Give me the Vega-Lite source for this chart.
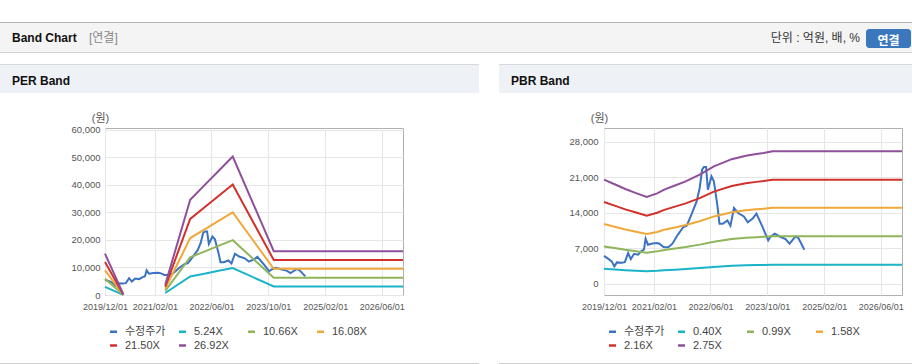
{
  "$schema": "https://vega.github.io/schema/vega-lite/v6.json",
  "background": "white",
  "padding": {"left": 0, "top": 22, "right": 0, "bottom": 0},
  "config": {
    "view": {"stroke": null},
    "title": {"anchor": "start", "frame": "group", "offset": 0, "baseline": "alphabetic", "font": "Liberation Sans, Noto Sans CJK KR", "fontSize": 12, "fontWeight": "bold", "color": "#111"}
  },
  "datasets": {
    "price": [
      {"date": "2019-12-01", "v": 5550, "series": "수정주가"},
      {"date": "2020-01-10", "v": 4900, "series": "수정주가"},
      {"date": "2020-02-05", "v": 4460, "series": "수정주가"},
      {"date": "2020-02-28", "v": 3450, "series": "수정주가"},
      {"date": "2020-03-20", "v": 4260, "series": "수정주가"},
      {"date": "2020-05-01", "v": 4200, "series": "수정주가"},
      {"date": "2020-05-28", "v": 4300, "series": "수정주가"},
      {"date": "2020-06-25", "v": 6100, "series": "수정주가"},
      {"date": "2020-07-18", "v": 4900, "series": "수정주가"},
      {"date": "2020-08-15", "v": 5950, "series": "수정주가"},
      {"date": "2020-09-18", "v": 5780, "series": "수정주가"},
      {"date": "2020-10-15", "v": 6430, "series": "수정주가"},
      {"date": "2020-11-08", "v": 6800, "series": "수정주가"},
      {"date": "2020-11-22", "v": 8950, "series": "수정주가"},
      {"date": "2020-12-12", "v": 7750, "series": "수정주가"},
      {"date": "2021-01-20", "v": 8000, "series": "수정주가"},
      {"date": "2021-03-01", "v": 8080, "series": "수정주가"},
      {"date": "2021-03-20", "v": 7950, "series": "수정주가"},
      {"date": "2021-04-25", "v": 7300, "series": "수정주가"},
      {"date": "2021-06-05", "v": 7230, "series": "수정주가"},
      {"date": "2021-07-10", "v": 7950, "series": "수정주가"},
      {"date": "2021-08-25", "v": 9700, "series": "수정주가"},
      {"date": "2021-10-12", "v": 11240, "series": "수정주가"},
      {"date": "2021-11-10", "v": 11500, "series": "수정주가"},
      {"date": "2021-12-20", "v": 13670, "series": "수정주가"},
      {"date": "2022-02-03", "v": 16290, "series": "수정주가"},
      {"date": "2022-03-01", "v": 18930, "series": "수정주가"},
      {"date": "2022-03-22", "v": 22540, "series": "수정주가"},
      {"date": "2022-04-06", "v": 23070, "series": "수정주가"},
      {"date": "2022-04-25", "v": 23070, "series": "수정주가"},
      {"date": "2022-05-10", "v": 18600, "series": "수정주가"},
      {"date": "2022-06-10", "v": 21220, "series": "수정주가"},
      {"date": "2022-07-01", "v": 20230, "series": "수정주가"},
      {"date": "2022-08-01", "v": 15300, "series": "수정주가"},
      {"date": "2022-08-18", "v": 11890, "series": "수정주가"},
      {"date": "2022-09-15", "v": 11890, "series": "수정주가"},
      {"date": "2022-10-25", "v": 12540, "series": "수정주가"},
      {"date": "2022-11-20", "v": 11500, "series": "수정주가"},
      {"date": "2022-12-20", "v": 14990, "series": "수정주가"},
      {"date": "2023-01-25", "v": 14000, "series": "수정주가"},
      {"date": "2023-03-15", "v": 13330, "series": "수정주가"},
      {"date": "2023-04-18", "v": 12150, "series": "수정주가"},
      {"date": "2023-06-01", "v": 12970, "series": "수정주가"},
      {"date": "2023-07-01", "v": 13860, "series": "수정주가"},
      {"date": "2023-08-20", "v": 11360, "series": "수정주가"},
      {"date": "2023-10-10", "v": 8600, "series": "수정주가"},
      {"date": "2023-10-28", "v": 9270, "series": "수정주가"},
      {"date": "2023-12-05", "v": 9920, "series": "수정주가"},
      {"date": "2024-01-25", "v": 9270, "series": "수정주가"},
      {"date": "2024-03-07", "v": 8870, "series": "수정주가"},
      {"date": "2024-04-10", "v": 7950, "series": "수정주가"},
      {"date": "2024-06-01", "v": 9390, "series": "수정주가"},
      {"date": "2024-06-25", "v": 9060, "series": "수정주가"},
      {"date": "2024-08-15", "v": 6760, "series": "수정주가"}
    ],
    "per": [
      {"series": "5.24X", "seg": 1, "date": "2019-12-01", "v": 2924},
      {"series": "5.24X", "seg": 1, "date": "2020-05-06", "v": 52},
      {"series": "5.24X", "seg": 2, "date": "2021-05-01", "v": 734},
      {"series": "5.24X", "seg": 2, "date": "2021-12-01", "v": 6744},
      {"series": "5.24X", "seg": 2, "date": "2022-04-01", "v": 7755},
      {"series": "5.24X", "seg": 2, "date": "2022-08-01", "v": 8777},
      {"series": "5.24X", "seg": 2, "date": "2022-12-01", "v": 9794},
      {"series": "5.24X", "seg": 2, "date": "2023-11-18", "v": 3102},
      {"series": "5.24X", "seg": 2, "date": "2026-12-01", "v": 3102},
      {"series": "10.66X", "seg": 1, "date": "2019-12-01", "v": 5948},
      {"series": "10.66X", "seg": 1, "date": "2020-05-06", "v": 107},
      {"series": "10.66X", "seg": 2, "date": "2021-05-01", "v": 1492},
      {"series": "10.66X", "seg": 2, "date": "2021-12-01", "v": 13719},
      {"series": "10.66X", "seg": 2, "date": "2022-04-01", "v": 15777},
      {"series": "10.66X", "seg": 2, "date": "2022-08-01", "v": 17856},
      {"series": "10.66X", "seg": 2, "date": "2022-12-01", "v": 19924},
      {"series": "10.66X", "seg": 2, "date": "2023-11-18", "v": 6311},
      {"series": "10.66X", "seg": 2, "date": "2026-12-01", "v": 6311},
      {"series": "16.08X", "seg": 1, "date": "2019-12-01", "v": 8973},
      {"series": "16.08X", "seg": 1, "date": "2020-05-06", "v": 161},
      {"series": "16.08X", "seg": 2, "date": "2021-05-01", "v": 2251},
      {"series": "16.08X", "seg": 2, "date": "2021-12-01", "v": 20695},
      {"series": "16.08X", "seg": 2, "date": "2022-04-01", "v": 23798},
      {"series": "16.08X", "seg": 2, "date": "2022-08-01", "v": 26934},
      {"series": "16.08X", "seg": 2, "date": "2022-12-01", "v": 30054},
      {"series": "16.08X", "seg": 2, "date": "2023-11-18", "v": 9519},
      {"series": "16.08X", "seg": 2, "date": "2026-12-01", "v": 9519},
      {"series": "21.50X", "seg": 1, "date": "2019-12-01", "v": 11997},
      {"series": "21.50X", "seg": 1, "date": "2020-05-06", "v": 215},
      {"series": "21.50X", "seg": 2, "date": "2021-05-01", "v": 3010},
      {"series": "21.50X", "seg": 2, "date": "2021-12-01", "v": 27671},
      {"series": "21.50X", "seg": 2, "date": "2022-04-01", "v": 31820},
      {"series": "21.50X", "seg": 2, "date": "2022-08-01", "v": 36013},
      {"series": "21.50X", "seg": 2, "date": "2022-12-01", "v": 40184},
      {"series": "21.50X", "seg": 2, "date": "2023-11-18", "v": 12728},
      {"series": "21.50X", "seg": 2, "date": "2026-12-01", "v": 12728},
      {"series": "26.92X", "seg": 1, "date": "2019-12-01", "v": 15021},
      {"series": "26.92X", "seg": 1, "date": "2020-05-06", "v": 269},
      {"series": "26.92X", "seg": 2, "date": "2021-05-01", "v": 3769},
      {"series": "26.92X", "seg": 2, "date": "2021-12-01", "v": 34646},
      {"series": "26.92X", "seg": 2, "date": "2022-04-01", "v": 39842},
      {"series": "26.92X", "seg": 2, "date": "2022-08-01", "v": 45091},
      {"series": "26.92X", "seg": 2, "date": "2022-12-01", "v": 50313},
      {"series": "26.92X", "seg": 2, "date": "2023-11-18", "v": 15937},
      {"series": "26.92X", "seg": 2, "date": "2026-12-01", "v": 15937}
    ],
    "pbr": [
      {"series": "0.40X", "date": "2019-12-01", "v": 2992},
      {"series": "0.40X", "date": "2020-03-01", "v": 2860},
      {"series": "0.40X", "date": "2020-06-01", "v": 2724},
      {"series": "0.40X", "date": "2020-09-01", "v": 2608},
      {"series": "0.40X", "date": "2020-12-01", "v": 2496},
      {"series": "0.40X", "date": "2021-03-01", "v": 2600},
      {"series": "0.40X", "date": "2021-05-01", "v": 2705},
      {"series": "0.40X", "date": "2021-08-01", "v": 2824},
      {"series": "0.40X", "date": "2021-11-01", "v": 2943},
      {"series": "0.40X", "date": "2022-03-01", "v": 3135},
      {"series": "0.40X", "date": "2022-07-01", "v": 3373},
      {"series": "0.40X", "date": "2022-12-01", "v": 3580},
      {"series": "0.40X", "date": "2023-04-01", "v": 3680},
      {"series": "0.40X", "date": "2023-07-01", "v": 3729},
      {"series": "0.40X", "date": "2023-09-01", "v": 3760},
      {"series": "0.40X", "date": "2023-11-15", "v": 3808},
      {"series": "0.40X", "date": "2026-12-01", "v": 3808},
      {"series": "0.99X", "date": "2019-12-01", "v": 7405},
      {"series": "0.99X", "date": "2020-03-01", "v": 7079},
      {"series": "0.99X", "date": "2020-06-01", "v": 6742},
      {"series": "0.99X", "date": "2020-09-01", "v": 6455},
      {"series": "0.99X", "date": "2020-12-01", "v": 6178},
      {"series": "0.99X", "date": "2021-03-01", "v": 6435},
      {"series": "0.99X", "date": "2021-05-01", "v": 6695},
      {"series": "0.99X", "date": "2021-08-01", "v": 6989},
      {"series": "0.99X", "date": "2021-11-01", "v": 7283},
      {"series": "0.99X", "date": "2022-03-01", "v": 7760},
      {"series": "0.99X", "date": "2022-07-01", "v": 8349},
      {"series": "0.99X", "date": "2022-12-01", "v": 8861},
      {"series": "0.99X", "date": "2023-04-01", "v": 9108},
      {"series": "0.99X", "date": "2023-07-01", "v": 9230},
      {"series": "0.99X", "date": "2023-09-01", "v": 9306},
      {"series": "0.99X", "date": "2023-11-15", "v": 9425},
      {"series": "0.99X", "date": "2026-12-01", "v": 9425},
      {"series": "1.58X", "date": "2019-12-01", "v": 11818},
      {"series": "1.58X", "date": "2020-03-01", "v": 11297},
      {"series": "1.58X", "date": "2020-06-01", "v": 10760},
      {"series": "1.58X", "date": "2020-09-01", "v": 10302},
      {"series": "1.58X", "date": "2020-12-01", "v": 9859},
      {"series": "1.58X", "date": "2021-03-01", "v": 10270},
      {"series": "1.58X", "date": "2021-05-01", "v": 10686},
      {"series": "1.58X", "date": "2021-08-01", "v": 11155},
      {"series": "1.58X", "date": "2021-11-01", "v": 11624},
      {"series": "1.58X", "date": "2022-03-01", "v": 12384},
      {"series": "1.58X", "date": "2022-07-01", "v": 13324},
      {"series": "1.58X", "date": "2022-12-01", "v": 14141},
      {"series": "1.58X", "date": "2023-04-01", "v": 14536},
      {"series": "1.58X", "date": "2023-07-01", "v": 14730},
      {"series": "1.58X", "date": "2023-09-01", "v": 14852},
      {"series": "1.58X", "date": "2023-11-15", "v": 15042},
      {"series": "1.58X", "date": "2026-12-01", "v": 15042},
      {"series": "2.16X", "date": "2019-12-01", "v": 16157},
      {"series": "2.16X", "date": "2020-03-01", "v": 15444},
      {"series": "2.16X", "date": "2020-06-01", "v": 14710},
      {"series": "2.16X", "date": "2020-09-01", "v": 14083},
      {"series": "2.16X", "date": "2020-12-01", "v": 13478},
      {"series": "2.16X", "date": "2021-03-01", "v": 14040},
      {"series": "2.16X", "date": "2021-05-01", "v": 14608},
      {"series": "2.16X", "date": "2021-08-01", "v": 15250},
      {"series": "2.16X", "date": "2021-11-01", "v": 15891},
      {"series": "2.16X", "date": "2022-03-01", "v": 16930},
      {"series": "2.16X", "date": "2022-07-01", "v": 18215},
      {"series": "2.16X", "date": "2022-12-01", "v": 19332},
      {"series": "2.16X", "date": "2023-04-01", "v": 19872},
      {"series": "2.16X", "date": "2023-07-01", "v": 20138},
      {"series": "2.16X", "date": "2023-09-01", "v": 20304},
      {"series": "2.16X", "date": "2023-11-15", "v": 20563},
      {"series": "2.16X", "date": "2026-12-01", "v": 20563},
      {"series": "2.75X", "date": "2019-12-01", "v": 20570},
      {"series": "2.75X", "date": "2020-03-01", "v": 19663},
      {"series": "2.75X", "date": "2020-06-01", "v": 18728},
      {"series": "2.75X", "date": "2020-09-01", "v": 17930},
      {"series": "2.75X", "date": "2020-12-01", "v": 17160},
      {"series": "2.75X", "date": "2021-03-01", "v": 17875},
      {"series": "2.75X", "date": "2021-05-01", "v": 18598},
      {"series": "2.75X", "date": "2021-08-01", "v": 19415},
      {"series": "2.75X", "date": "2021-11-01", "v": 20232},
      {"series": "2.75X", "date": "2022-03-01", "v": 21555},
      {"series": "2.75X", "date": "2022-07-01", "v": 23191},
      {"series": "2.75X", "date": "2022-12-01", "v": 24613},
      {"series": "2.75X", "date": "2023-04-01", "v": 25300},
      {"series": "2.75X", "date": "2023-07-01", "v": 25638},
      {"series": "2.75X", "date": "2023-09-01", "v": 25850},
      {"series": "2.75X", "date": "2023-11-15", "v": 26180},
      {"series": "2.75X", "date": "2026-12-01", "v": 26180}
    ]
  },
  "spacing": 0,
  "resolve": {"scale": {"color": "independent"}, "legend": {"color": "independent"}},
  "vconcat": [
    {"width": 912, "height": 1, "data": {"values": []}, "mark": "point", "view": {"fill": "#b5b5b5", "stroke": null}},
    {
      "spacing": 0,
      "hconcat": [
        {"width": 88, "height": 29, "data": {"values": []}, "mark": "point", "view": {"fill": "#f4f4f4", "stroke": null},
         "title": {"text": "Band Chart", "anchor": "start", "dx": 12, "dy": 26, "fontSize": 12, "fontWeight": "bold", "color": "#111"}},
        {"width": 640, "height": 29, "data": {"values": []}, "mark": "point", "view": {"fill": "#f4f4f4", "stroke": null},
         "title": {"text": "[연결]", "anchor": "start", "dx": 1, "dy": 26, "fontSize": 12, "fontWeight": "normal", "color": "#888"}},
        {"width": 138, "height": 29, "data": {"values": []}, "mark": "point", "view": {"fill": "#f4f4f4", "stroke": null},
         "title": {"text": "단위 : 억원, 배, %", "anchor": "end", "dx": -6, "dy": 26, "fontSize": 12, "fontWeight": "normal", "color": "#333"}},
        {
          "spacing": 0,
          "vconcat": [
            {"width": 45, "height": 6, "data": {"values": []}, "mark": "point", "view": {"fill": "#f4f4f4", "stroke": null}},
            {"width": 45, "height": 19, "data": {"values": []}, "mark": "point", "view": {"fill": "#3a77bd", "stroke": null, "cornerRadius": 3},
             "title": {"text": "연결", "anchor": "middle", "dy": 23, "fontSize": 12, "fontWeight": "bold", "color": "#ffffff"}},
            {"width": 45, "height": 4, "data": {"values": []}, "mark": "point", "view": {"fill": "#f4f4f4", "stroke": null}}
          ]
        },
        {"width": 1, "height": 29, "data": {"values": []}, "mark": "point", "view": {"fill": "#f4f4f4", "stroke": null}}
      ]
    },
    {"width": 912, "height": 1, "data": {"values": []}, "mark": "point", "view": {"fill": "#d2d2d2", "stroke": null}},
    {"width": 912, "height": 11, "data": {"values": []}, "mark": "point"},
    {
      "spacing": 20,
      "resolve": {"scale": {"color": "independent"}, "legend": {"color": "independent"}},
      "hconcat": [
        {
          "spacing": 0,
          "vconcat": [
            {"width": 479, "height": 1, "data": {"values": []}, "mark": "point", "view": {"fill": "#d9d9d9", "stroke": null}},
            {"width": 479, "height": 28, "data": {"values": []}, "mark": "point", "view": {"fill": "#eef2f7", "stroke": null},
             "title": {"text": "PER Band", "anchor": "start", "dx": 12, "dy": 27, "fontSize": 12, "fontWeight": "bold", "color": "#111"}},
            {"width": 1, "height": 18, "data": {"values": []}, "mark": "point"},
            {
              "spacing": 0,
              "hconcat": [
                {"width": 1, "height": 1, "data": {"values": []}, "mark": "point"},
                {
                  "width": 298,
                  "height": 167,
                  "view": {"stroke": "#b0b0b0", "fill": "white"},
                  "encoding": {
                    "x": {"field": "date", "type": "temporal",
                      "scale": {"type": "utc", "domain": [{"year": 2019, "month": 12, "date": 1, "utc": true}, {"year": 2026, "month": 12, "date": 1, "utc": true}], "nice": false},
                      "axis": {"values": [{"year": 2019, "month": 12, "date": 1, "utc": true}, {"year": 2021, "month": 2, "date": 1, "utc": true}, {"year": 2022, "month": 6, "date": 1, "utc": true}, {"year": 2023, "month": 10, "date": 1, "utc": true}, {"year": 2025, "month": 2, "date": 1, "utc": true}, {"year": 2026, "month": 6, "date": 1, "utc": true}],
                        "labelExpr": "utcFormat(datum.value, '%Y/%m/%d')", "title": null, "labelFont": "Liberation Sans", "labelFontSize": 9, "labelColor": "#555", "labelPadding": 7, "labelFlush": false, "labelOverlap": false, "ticks": false, "domain": false, "grid": true, "gridColor": "#e6e6e6"}},
                    "y": {"field": "v", "type": "quantitative",
                      "scale": {"domain": [0, 60700], "nice": false, "zero": false},
                      "axis": {"values": [0, 10000, 20000, 30000, 40000, 50000, 60000], "labelExpr": "format(datum.value, ',')", "title": "(원)", "titleAngle": 0, "titleX": -5, "titleY": -10, "titleAlign": "center", "titleBaseline": "middle", "titleFontSize": 11, "titleFontWeight": "normal", "titleColor": "#555", "titleFont": "Liberation Sans, Noto Sans CJK KR", "labelFont": "Liberation Sans", "labelFontSize": 9.5, "labelColor": "#555", "labelPadding": 5, "ticks": false, "domain": false, "grid": true, "gridColor": "#e6e6e6", "minExtent": 103}},
                    "color": {"field": "series", "type": "nominal",
                      "scale": {"domain": ["수정주가", "5.24X", "10.66X", "16.08X", "21.50X", "26.92X"], "range": ["#3b73c2", "#1ab4c8", "#8fb55a", "#f0a83a", "#d2302b", "#8f4f9b"]},
                      "legend": {"title": null, "orient": "none", "legendX": 108, "legendY": 262, "direction": "horizontal", "columns": 4, "gridAlign": "all", "symbolType": "stroke", "symbolSize": 49, "symbolStrokeWidth": 2.5, "labelFont": "Liberation Sans, Noto Sans CJK KR", "labelFontSize": 11, "labelColor": "#444", "labelOffset": 6, "columnPadding": 8, "rowPadding": 2, "padding": 0}}
                  },
                  "layer": [
                    {"data": {"name": "price"}, "mark": {"type": "line", "strokeWidth": 2}},
                    {"data": {"name": "per"}, "mark": {"type": "line", "strokeWidth": 2}, "encoding": {"detail": {"field": "seg", "type": "nominal"}}}
                  ]
                }
              ]
            },
            {"width": 1, "height": 51, "data": {"values": []}, "mark": "point"},
            {"width": 479, "height": 1, "data": {"values": []}, "mark": "point", "view": {"fill": "#d0d0d0", "stroke": null}}
          ]
        },
        {
          "spacing": 0,
          "vconcat": [
            {"width": 413, "height": 1, "data": {"values": []}, "mark": "point", "view": {"fill": "#d9d9d9", "stroke": null}},
            {"width": 413, "height": 28, "data": {"values": []}, "mark": "point", "view": {"fill": "#eef2f7", "stroke": null},
             "title": {"text": "PBR Band", "anchor": "start", "dx": 12, "dy": 27, "fontSize": 12, "fontWeight": "bold", "color": "#111"}},
            {"width": 1, "height": 18, "data": {"values": []}, "mark": "point"},
            {
              "spacing": 0,
              "hconcat": [
                {"width": 1, "height": 1, "data": {"values": []}, "mark": "point"},
                {
                  "width": 298,
                  "height": 167,
                  "view": {"stroke": "#b0b0b0", "fill": "white"},
                  "encoding": {
                    "x": {"field": "date", "type": "temporal",
                      "scale": {"type": "utc", "domain": [{"year": 2019, "month": 12, "date": 1, "utc": true}, {"year": 2026, "month": 12, "date": 1, "utc": true}], "nice": false},
                      "axis": {"values": [{"year": 2019, "month": 12, "date": 1, "utc": true}, {"year": 2021, "month": 2, "date": 1, "utc": true}, {"year": 2022, "month": 6, "date": 1, "utc": true}, {"year": 2023, "month": 10, "date": 1, "utc": true}, {"year": 2025, "month": 2, "date": 1, "utc": true}, {"year": 2026, "month": 6, "date": 1, "utc": true}],
                        "labelExpr": "utcFormat(datum.value, '%Y/%m/%d')", "title": null, "labelFont": "Liberation Sans", "labelFontSize": 9, "labelColor": "#555", "labelPadding": 7, "labelFlush": false, "labelOverlap": false, "ticks": false, "domain": false, "grid": true, "gridColor": "#e6e6e6"}},
                    "y": {"field": "v", "type": "quantitative",
                      "scale": {"domain": [-2170, 30760], "nice": false, "zero": false},
                      "axis": {"values": [0, 7000, 14000, 21000, 28000], "labelExpr": "format(datum.value, ',')", "title": "(원)", "titleAngle": 0, "titleX": -5, "titleY": -10, "titleAlign": "center", "titleBaseline": "middle", "titleFontSize": 11, "titleFontWeight": "normal", "titleColor": "#555", "titleFont": "Liberation Sans, Noto Sans CJK KR", "labelFont": "Liberation Sans", "labelFontSize": 9.5, "labelColor": "#555", "labelPadding": 6, "ticks": false, "domain": false, "grid": true, "gridColor": "#e6e6e6", "minExtent": 103}},
                    "color": {"field": "series", "type": "nominal",
                      "scale": {"domain": ["수정주가", "0.40X", "0.99X", "1.58X", "2.16X", "2.75X"], "range": ["#3b73c2", "#1ab4c8", "#8fb55a", "#f0a83a", "#d2302b", "#8f4f9b"]},
                      "legend": {"title": null, "orient": "none", "legendX": 108, "legendY": 262, "direction": "horizontal", "columns": 4, "gridAlign": "all", "symbolType": "stroke", "symbolSize": 49, "symbolStrokeWidth": 2.5, "labelFont": "Liberation Sans, Noto Sans CJK KR", "labelFontSize": 11, "labelColor": "#444", "labelOffset": 6, "columnPadding": 8, "rowPadding": 2, "padding": 0}}
                  },
                  "layer": [
                    {"data": {"name": "price"}, "mark": {"type": "line", "strokeWidth": 2}},
                    {"data": {"name": "pbr"}, "mark": {"type": "line", "strokeWidth": 2}}
                  ]
                }
              ]
            },
            {"width": 1, "height": 51, "data": {"values": []}, "mark": "point"},
            {"width": 413, "height": 1, "data": {"values": []}, "mark": "point", "view": {"fill": "#d0d0d0", "stroke": null}}
          ]
        }
      ]
    }
  ]
}
